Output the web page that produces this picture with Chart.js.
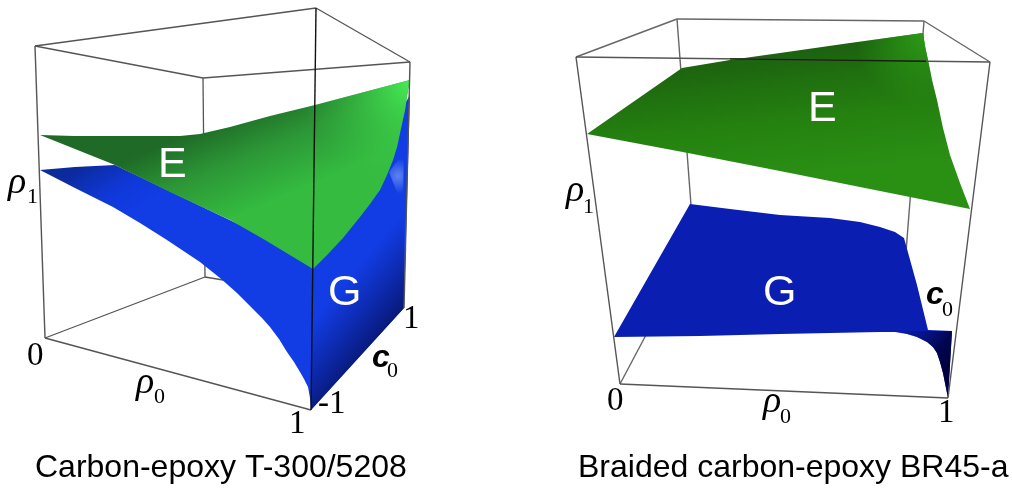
<!DOCTYPE html>
<html>
<head>
<meta charset="utf-8">
<script src="https://cdn.jsdelivr.net/npm/chart.js@4"></script>
<style>
  body { margin: 0; background: #fff; }
  canvas { display: block; }
</style>
</head>
<body>
<canvas id="myChart" width="1012" height="488"></canvas>
<script>
// Outlines, in picture units (x right, y down)

// left panel, carbon-epoxy
const leftBoxBack = [
    [[35, 46], [316, 8]], [[35, 46], [203, 78]], [[203, 78], [410, 62]], [[316, 8], [410, 62]],
    [[203, 78], [205, 277]], [[45, 338], [205, 277]], [[205, 277], [235, 282]]
];
const leftBoxFront = [
    [[35, 46], [45, 338]], [[45, 338], [311, 410]], [[410, 62], [404, 308]]
];
const leftBoxNear = [[316, 8], [311, 410]];
const leftSurfaceG = [
    [40, 170], [75, 167], [115, 165], [313, 260], [410, 95], [404, 308], [311, 410], [310, 398],
    [308, 387], [304, 379], [300, 372], [294, 362], [287, 352], [279, 339], [270, 327], [262, 318],
    [253, 309], [245, 301], [237, 293], [228, 285], [220, 278], [200, 262], [167, 240], [140, 223],
    [113, 207], [75, 188]
];
const leftShadeG = [[313, 269], [404, 200], [404, 308], [311, 410]];
const leftHighlightG = [[389, 172], [398, 160], [404, 150], [403, 200], [396, 190]];
const leftSurfaceE = [
    [40, 135], [75, 136], [130, 136], [180, 136], [200, 134], [230, 127], [270, 116], [315, 105],
    [410, 80], [408, 90], [405, 110], [400, 133], [397, 147], [393, 160], [387, 175], [380, 190],
    [370, 204], [360, 217], [343, 238], [328, 254], [313, 269], [265, 240], [230, 220], [170, 192],
    [115, 165]
];

// right panel, braided carbon-epoxy
const rightBoxBack = [
    [[576, 57], [677, 19]], [[677, 19], [924, 21]], [[924, 21], [990, 62]],
    [[677, 19], [691, 205]], [[924, 21], [905, 265]], [[620, 384], [691, 250]]
];
const rightBoxFront = [
    [[576, 57], [990, 62]], [[576, 57], [620, 384]], [[990, 62], [948, 398]], [[620, 384], [948, 398]]
];
const rightBoxOverE = [[730, 58.9], [926, 61.2]];
const rightSurfaceG = [
    [614, 337], [690, 204], [730, 209], [780, 215], [830, 218], [860, 222], [880, 227], [895, 232],
    [904, 238], [917, 285], [928, 330], [952, 331], [948, 398], [946, 388], [943, 373], [940, 362],
    [937, 353], [933, 347], [927, 342], [917, 337], [907, 334], [895, 332], [880, 332], [780, 334],
    [700, 336]
];
const rightShadeG = [
    [895, 331], [952, 331], [948, 398], [946, 388], [943, 373], [940, 362], [937, 353], [933, 347],
    [927, 342], [917, 337], [907, 334]
];
const rightSurfaceE = [
    [587, 134], [682, 68], [730, 60], [780, 53], [850, 43], [923, 33], [925, 46], [928, 60],
    [932, 80], [937, 100], [943, 128], [950, 155], [960, 183], [970, 209], [880, 191],
    [780, 171], [688, 153]
];

// text
const captions = ['Carbon-epoxy T-300/5208', 'Braided carbon-epoxy BR45-a'];
const regionLabels = ['E', 'G'];
const tickLabels = ['0', '1', '-1'];
const rhoSymbol = '\u03C1';
const cSymbol = 'c';

const datasets = [];

function toData(points) {
    return points.map(p => ({ x: p[0], y: p[1] }));
}

function addLine(points, color, width) {
    datasets.push({
        data: toData(points), showLine: true, fill: false, borderColor: color, borderWidth: width,
        pointRadius: 0, order: 1000 - datasets.length
    });
}

function addShape(points, background) {
    datasets.push({
        data: toData(points), showLine: true, fill: 'shape', borderWidth: 0, borderColor: 'transparent',
        backgroundColor: background, pointRadius: 0, order: 1000 - datasets.length
    });
}

function linearFill(x0, y0, x1, y1, stops) {
    return ctx => {
        const chart = ctx.chart;
        if (!chart.chartArea) return stops[0][1];
        const sx = chart.scales.x, sy = chart.scales.y;
        const g = chart.ctx.createLinearGradient(sx.getPixelForValue(x0), sy.getPixelForValue(y0),
            sx.getPixelForValue(x1), sy.getPixelForValue(y1));
        stops.forEach(s => g.addColorStop(s[0], s[1]));
        return g;
    };
}

function radialFill(x0, y0, r, stops) {
    return ctx => {
        const chart = ctx.chart;
        if (!chart.chartArea) return stops[0][1];
        const sx = chart.scales.x, sy = chart.scales.y;
        const px = sx.getPixelForValue(x0), py = sy.getPixelForValue(y0);
        const g = chart.ctx.createRadialGradient(px, py, 0, px, py, r);
        stops.forEach(s => g.addColorStop(s[0], s[1]));
        return g;
    };
}

// left panel, back to front
leftBoxBack.forEach(l => addLine(l, '#555555', 1.3));
addShape(leftSurfaceG, linearFill(90, 160, 125, 215, [[0, '#0b2a9c'], [0.6, '#1038d8'], [1, '#123ce4']]));
addShape(leftShadeG, linearFill(360, 265, 408, 305, [[0, 'rgba(10,28,130,0)'], [1, 'rgba(8,24,120,1)']]));
addShape(leftHighlightG, radialFill(398, 176, 18, [[0, 'rgba(170,200,255,0.5)'], [1, 'rgba(170,200,255,0)']]));
addShape(leftSurfaceE, linearFill(225, 118, 262, 205, [[0, '#1e6a26'], [0.45, '#2c9636'], [1, '#34bb40']]));
addShape(leftSurfaceE, radialFill(410, 82, 110, [[0, 'rgba(70,235,85,1)'], [1, 'rgba(55,190,65,0)']]));
leftBoxFront.forEach(l => addLine(l, '#555555', 1.4));
addLine(leftBoxNear, '#111111', 1.4);

// right panel, back to front
rightBoxBack.forEach(l => addLine(l, '#666666', 1.4));
addShape(rightSurfaceG, '#0a1eb2');
addShape(rightShadeG, linearFill(900, 325, 946, 368, [[0, 'rgba(5,15,120,0)'], [0.7, 'rgba(2,6,80,1)'], [1, 'rgba(0,0,60,1)']]));
addShape(rightSurfaceE, linearFill(770, 45, 785, 180, [[0, '#1b5e10'], [0.55, '#24800f'], [1, '#2a9014']]));
addShape(rightSurfaceE, radialFill(925, 35, 70, [[0, 'rgba(44,155,22,1)'], [1, 'rgba(44,155,22,0)']]));
rightBoxFront.forEach(l => addLine(l, '#555555', 1.4));
addLine(rightBoxOverE, '#14240c', 1.4);

function drawText(ctx, chart, text, x, y, font, color) {
    ctx.font = font;
    ctx.fillStyle = color;
    ctx.fillText(text, chart.scales.x.getPixelForValue(x), chart.scales.y.getPixelForValue(y));
}

const labelPlugin = {
    id: 'labels',
    afterDraw(chart) {
        const ctx = chart.ctx;
        const sans = '"Liberation Sans"', serif = '"Liberation Serif"';
        ctx.save();
        ctx.textBaseline = 'alphabetic';
        ctx.textAlign = 'left';

        drawText(ctx, chart, captions[0], 35, 477, `32px ${sans}`, '#000');
        drawText(ctx, chart, captions[1], 578, 477, `32px ${sans}`, '#000');

        const big = `43px ${sans}`;
        drawText(ctx, chart, regionLabels[0], 158, 177, big, '#fff');
        drawText(ctx, chart, regionLabels[1], 328, 305, big, '#fff');
        drawText(ctx, chart, regionLabels[0], 808, 121, big, '#fff');
        drawText(ctx, chart, regionLabels[1], 763, 305, big, '#fff');

        const digit = `33px ${serif}`;
        drawText(ctx, chart, tickLabels[0], 27, 365, digit, '#000');
        drawText(ctx, chart, tickLabels[1], 289, 433, digit, '#000');
        drawText(ctx, chart, tickLabels[2], 318, 413, digit, '#000');
        drawText(ctx, chart, tickLabels[1], 403, 328, digit, '#000');
        drawText(ctx, chart, tickLabels[0], 607, 410, digit, '#000');
        drawText(ctx, chart, tickLabels[1], 938, 422, digit, '#000');

        const rho = `italic 38px ${serif}`, sub = `22px ${serif}`;
        drawText(ctx, chart, rhoSymbol, 8, 193, rho, '#000');
        drawText(ctx, chart, tickLabels[1], 27, 203, sub, '#000');
        drawText(ctx, chart, rhoSymbol, 136, 393, rho, '#000');
        drawText(ctx, chart, tickLabels[0], 154, 403, sub, '#000');
        drawText(ctx, chart, rhoSymbol, 566, 201, rho, '#000');
        drawText(ctx, chart, tickLabels[1], 583, 213, sub, '#000');
        drawText(ctx, chart, rhoSymbol, 763, 412, rho, '#000');
        drawText(ctx, chart, tickLabels[0], 780, 423, sub, '#000');

        const cFont = `italic bold 32px ${sans}`;
        drawText(ctx, chart, cSymbol, 372, 367, cFont, '#000');
        drawText(ctx, chart, tickLabels[0], 387, 377, sub, '#000');
        drawText(ctx, chart, cSymbol, 926, 304, cFont, '#000');
        drawText(ctx, chart, tickLabels[0], 942, 316, sub, '#000');
        ctx.restore();
    }
};

document.addEventListener('DOMContentLoaded', () => {
    new Chart(document.getElementById('myChart').getContext('2d'), {
        type: 'scatter',
        data: { datasets: datasets },
        plugins: [labelPlugin],
        options: {
            responsive: false,
            animation: false,
            layout: { padding: 0 },
            plugins: { legend: { display: false }, tooltip: { enabled: false } },
            scales: {
                x: { type: 'linear', min: 0, max: 1012, display: false },
                y: { type: 'linear', min: 0, max: 488, reverse: true, display: false }
            }
        }
    });
});
</script>
</body>
</html>
